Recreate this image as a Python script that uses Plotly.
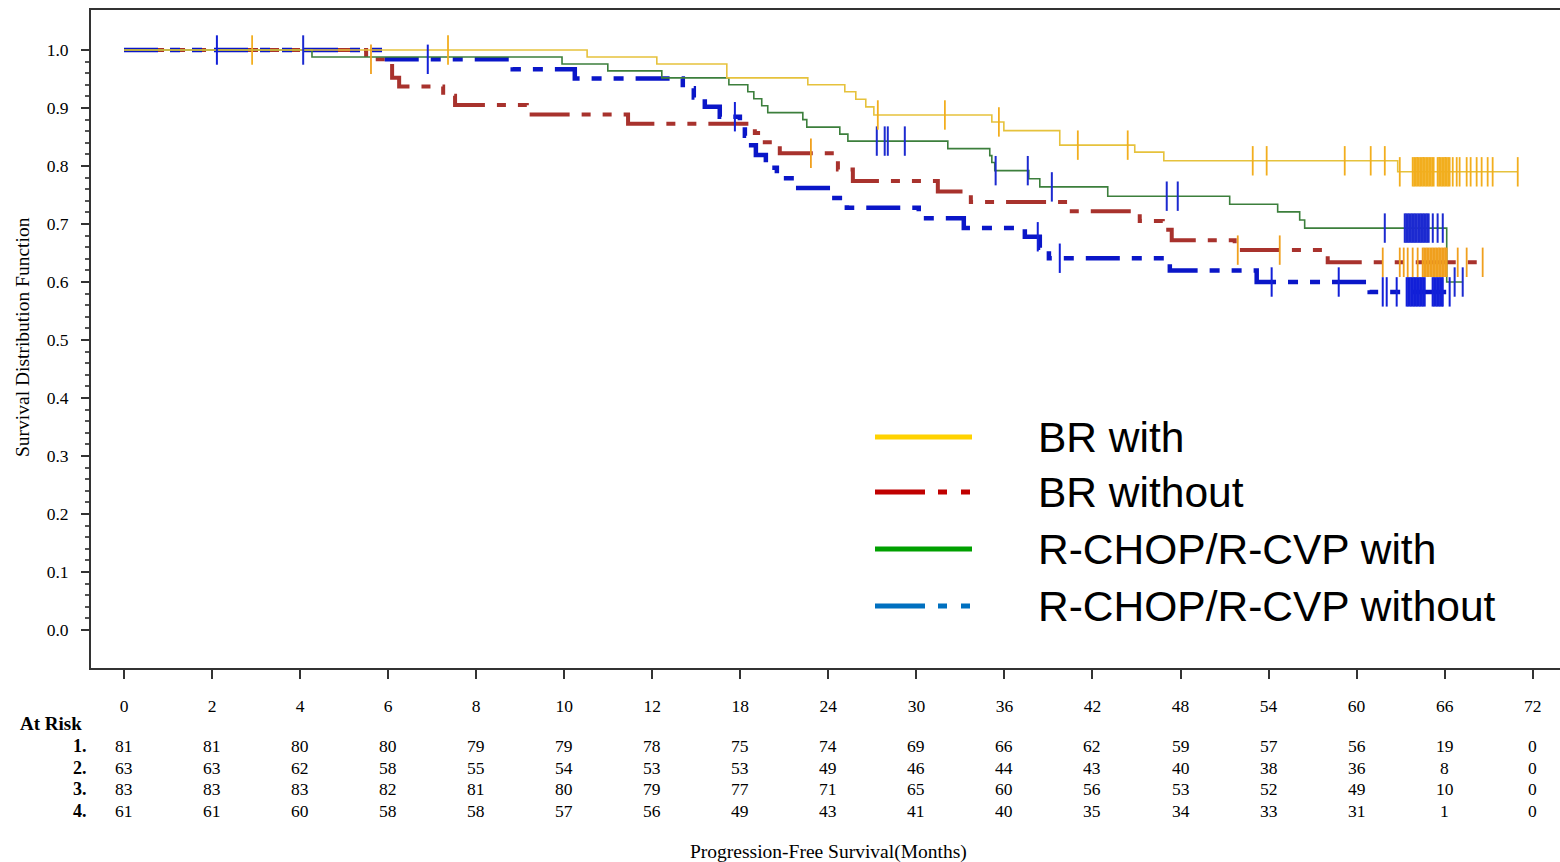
import numpy as np
import plotly.graph_objects as go

# ---------------- data ----------------
TICK_MONTHS = [0, 2, 4, 6, 8, 10, 12, 18, 24, 30, 36, 42, 48, 54, 60, 66, 72]
TICK_LABELS = [str(m) for m in TICK_MONTHS]
Y_TICKS = [round(0.1 * i, 1) for i in range(11)]

SERIES_NAMES = ["BR with", "BR without", "R-CHOP/R-CVP with", "R-CHOP/R-CVP without"]

# BR with (yellow)
br_with_t = [10.52, 12.31, 17.08, 22.60, 25.12, 25.87, 26.55, 27.10, 35.14, 35.96, 39.77,
             44.88, 46.86, 62.80]
br_with_s = [0.988, 0.976, 0.952, 0.940, 0.928, 0.915, 0.902, 0.888, 0.876, 0.861, 0.836,
             0.824, 0.809, 0.790]
br_with_end = 70.98
br_with_cens = [2.91, 7.36, 27.37, 31.94, 35.62, 41.0, 44.40, 52.92, 53.87, 59.19, 60.96,
                61.92, 62.94, 63.82, 63.92, 64.02, 64.12, 64.23, 64.33, 64.43, 64.53, 64.64,
                64.74, 64.84, 64.94, 65.05, 65.15, 65.25, 65.52, 65.62, 65.73, 65.83, 65.93,
                66.03, 66.14, 66.24, 66.34, 66.55, 66.82, 67.02, 67.50, 67.77, 68.18, 68.52,
                68.93, 69.27, 70.98]

# BR without (red)
br_wo_t = [5.50, 6.09, 6.25, 7.25, 7.52, 9.15, 11.45, 18.99, 19.47, 20.69, 24.65, 25.67,
           31.46, 33.71, 40.32, 45.22, 46.79, 47.40, 51.69, 58.03]
br_wo_s = [0.984, 0.952, 0.937, 0.921, 0.905, 0.889, 0.873, 0.857, 0.841, 0.822, 0.794,
           0.774, 0.756, 0.738, 0.722, 0.705, 0.690, 0.672, 0.655, 0.634]
br_wo_end = 68.73
br_wo_cens = [5.61, 22.81, 51.90, 54.76, 61.78, 62.94, 63.21, 63.48, 63.82, 64.16, 64.50,
              64.60, 64.71, 64.81, 64.91, 65.02, 65.12, 65.22, 65.32, 65.42, 65.52, 65.62,
              65.73, 65.83, 65.93, 66.03, 66.14, 66.89, 67.50, 68.59]

# R-CHOP/R-CVP with (green)
rc_with_t = [4.27, 9.95, 10.99, 12.65, 17.22, 18.51, 18.92, 19.46, 19.87, 22.26, 22.53,
             24.78, 25.33, 32.14, 35.00, 35.14, 35.34, 37.66, 38.41, 43.04, 51.35, 54.62,
             56.12, 56.46, 66.14]
rc_with_s = [0.988, 0.976, 0.964, 0.952, 0.940, 0.928, 0.916, 0.904, 0.892, 0.880, 0.867,
             0.855, 0.843, 0.830, 0.818, 0.806, 0.792, 0.778, 0.764, 0.748, 0.734, 0.721,
             0.707, 0.693, 0.600]
rc_with_end = 67.23
rc_with_cens = [4.07, 27.30, 27.84, 28.05, 29.21, 35.40, 37.59, 39.23, 47.06, 47.81, 61.92,
                63.28, 63.38, 63.48, 63.58, 63.69, 63.79, 63.89, 63.99, 64.09, 64.20, 64.30,
                64.40, 64.50, 64.60, 64.71, 64.81, 64.91, 65.19, 65.52, 65.87, 66.68, 67.23]

# R-CHOP/R-CVP without (blue)
rc_wo_t = [5.88, 8.83, 10.24, 14.08, 14.83, 15.58, 16.60, 17.97, 18.31, 18.45, 19.06,
           19.74, 20.49, 21.72, 23.96, 25.26, 30.16, 33.23, 37.39, 38.41, 39.03, 47.27,
           53.19, 60.89]
rc_wo_s = [0.984, 0.967, 0.951, 0.934, 0.918, 0.902, 0.885, 0.869, 0.852, 0.836, 0.819,
           0.797, 0.779, 0.762, 0.745, 0.728, 0.710, 0.693, 0.678, 0.659, 0.641, 0.620,
           0.600, 0.583]
rc_wo_end = 66.34
rc_wo_cens = [2.11, 6.90, 17.63, 38.27, 39.77, 54.21, 58.78, 61.78, 62.05, 62.73, 63.41,
              63.51, 63.62, 63.72, 63.82, 63.92, 64.02, 64.12, 64.23, 64.33, 64.43, 64.53,
              64.64, 65.18, 65.28, 65.39, 65.49, 65.59, 65.69, 65.80, 65.87, 66.34]

AT_RISK_ROWS = ["1.", "2.", "3.", "4."]
at_risk_1 = [81, 81, 80, 80, 79, 79, 78, 75, 74, 69, 66, 62, 59, 57, 56, 19, 0]
at_risk_2 = [63, 63, 62, 58, 55, 54, 53, 53, 49, 46, 44, 43, 40, 38, 36, 8, 0]
at_risk_3 = [83, 83, 83, 82, 81, 80, 79, 77, 71, 65, 60, 56, 53, 52, 49, 10, 0]
at_risk_4 = [61, 61, 60, 58, 58, 57, 56, 49, 43, 41, 40, 35, 34, 33, 31, 1, 0]

# ---------------- helpers ----------------
W, H = 1560, 862
L, T, R, B = 91, 10, 1560, 668  # plot area in pixels


def pos(months):
    """Map months to evenly spaced tick index axis (axis labels are non-linear)."""
    return np.interp(np.asarray(months, float), TICK_MONTHS, np.arange(len(TICK_MONTHS)))


def px_x(px):
    return (px - L) / (R - L)


def px_y(py):
    return (B - py) / (B - T)


def step_value(times, ev_t, ev_s):
    idx = np.searchsorted(np.asarray(ev_t), np.asarray(times), side="right")
    vals = np.concatenate([[1.0], ev_s])
    return vals[idx]


fig = go.Figure()

curves = [
    (br_wo_t, br_wo_s, br_wo_end, br_wo_cens, "#A8322D", 4, "40px,12px,9px,12px,9px,12px", "#F0A01E", 1.8),
    (rc_wo_t, rc_wo_s, rc_wo_end, rc_wo_cens, "#0A16C8", 4.5, "34px,12px,10px,12px,10px,12px", "#1220D8", 2),
    (rc_with_t, rc_with_s, rc_with_end, rc_with_cens, "#3C7F3C", 1.6, "solid", "#1C2AD0", 2),
    (br_with_t, br_with_s, br_with_end, br_with_cens, "#E6C23C", 1.6, "solid", "#F2AE1E", 1.8),
]
order_names = [SERIES_NAMES[1], SERIES_NAMES[3], SERIES_NAMES[2], SERIES_NAMES[0]]

for (ev_t, ev_s, end_t, cens, col, lw, dash, ccol, cw), nm in zip(curves, order_names):
    xs = pos([0.0] + list(ev_t) + [end_t])
    ys = [1.0] + list(ev_s) + [ev_s[-1]]
    fig.add_trace(go.Scatter(x=xs, y=ys, mode="lines", line_shape="hv", name=nm,
                             line=dict(color=col, width=lw, dash=dash), showlegend=False))

for (ev_t, ev_s, end_t, cens, col, lw, dash, ccol, cw), nm in zip(curves, order_names):
    cy = step_value(cens, ev_t, ev_s)
    fig.add_trace(go.Scatter(x=pos(cens), y=cy, mode="markers", name=nm + " censored",
                             marker=dict(symbol="line-ns", size=21,
                                         line=dict(color=ccol, width=cw)),
                             showlegend=False))

serif = "Liberation Serif"

# ---------------- custom legend ----------------
leg_rows_py = [437, 492, 549, 606]
leg_cols = ["#FFD200", "#C00000", "#00A000", "#0070C0"]
leg_dash = ["solid", "50px,13px,9px,14px,9px", "solid", "50px,13px,9px,14px,9px"]
shapes = []
annotations = []
for name, py, c, d in zip(SERIES_NAMES, leg_rows_py, leg_cols, leg_dash):
    shapes.append(dict(type="line", xref="paper", yref="paper",
                       x0=px_x(875), x1=px_x(972), y0=px_y(py), y1=px_y(py),
                       line=dict(color=c, width=5, dash=d)))
    annotations.append(dict(text=name, xref="paper", yref="paper", x=px_x(1036),
                            y=px_y(py), xanchor="left", yanchor="middle", showarrow=False,
                            font=dict(family="Liberation Sans", size=42.5, color="black")))

# ---------------- at-risk table ----------------
annotations.append(dict(text="<b>At Risk</b>", xref="paper", yref="paper", x=px_x(18),
                        y=px_y(724), xanchor="left", yanchor="middle", showarrow=False,
                        font=dict(family=serif, size=19, color="black")))
rows_py = [746, 768, 789, 811]
for lab, vals, py in zip(AT_RISK_ROWS, [at_risk_1, at_risk_2, at_risk_3, at_risk_4], rows_py):
    annotations.append(dict(text="<b>" + lab + "</b>", xref="paper", yref="paper",
                            x=px_x(89), y=px_y(py), xanchor="right", yanchor="middle",
                            showarrow=False, font=dict(family=serif, size=18, color="black")))
    for m, v in zip(TICK_MONTHS, vals):
        annotations.append(dict(text=str(v), xref="x", yref="paper", x=float(pos(m)),
                                y=px_y(py), xanchor="center", yanchor="middle",
                                showarrow=False, font=dict(family=serif, size=17.5, color="black")))

# axis titles
annotations.append(dict(text="Progression-Free Survival(Months)", xref="paper", yref="paper",
                        x=px_x(828), y=px_y(852), xanchor="center", yanchor="middle",
                        showarrow=False, font=dict(family=serif, size=19.5, color="black")))
annotations.append(dict(text="Survival Distribution Function", xref="paper", yref="paper",
                        x=px_x(22), y=px_y(337), xanchor="center", yanchor="middle",
                        textangle=-90, showarrow=False,
                        font=dict(family=serif, size=19.5, color="black")))

minor_vals = [round(0.02 * i, 2) for i in range(51) if i % 5 != 0]

fig.update_layout(
    width=W, height=H,
    margin=dict(l=L, r=W - R, t=T, b=H - B, pad=0),
    paper_bgcolor="white", plot_bgcolor="white",
    showlegend=False,
    shapes=shapes,
    annotations=annotations,
    xaxis=dict(range=[-0.375, 16.31], tickmode="array", tickvals=list(range(len(TICK_MONTHS))),
               ticktext=TICK_LABELS, ticks="outside", ticklen=9, tickwidth=1.5,
               tickcolor="#333", showline=True, linecolor="#333", linewidth=2, mirror=True,
               showgrid=False, zeroline=False, ticklabelstandoff=12,
               tickfont=dict(family=serif, size=17.5, color="black")),
    yaxis=dict(range=[-0.0655, 1.069], tickmode="array", tickvals=Y_TICKS,
               ticktext=[f"{v:.1f}" for v in Y_TICKS], ticks="outside", ticklen=8, tickwidth=1.5,
               tickcolor="#333", showline=True, linecolor="#333", linewidth=2,
               showgrid=False, zeroline=False, ticklabelstandoff=9,
               tickfont=dict(family=serif, size=17.5, color="black"),
               minor=dict(tickmode="array", tickvals=minor_vals, ticks="outside", ticklen=4,
                          tickwidth=1.5, tickcolor="#555", showgrid=False)),
)

fig.write_html("out.html")
